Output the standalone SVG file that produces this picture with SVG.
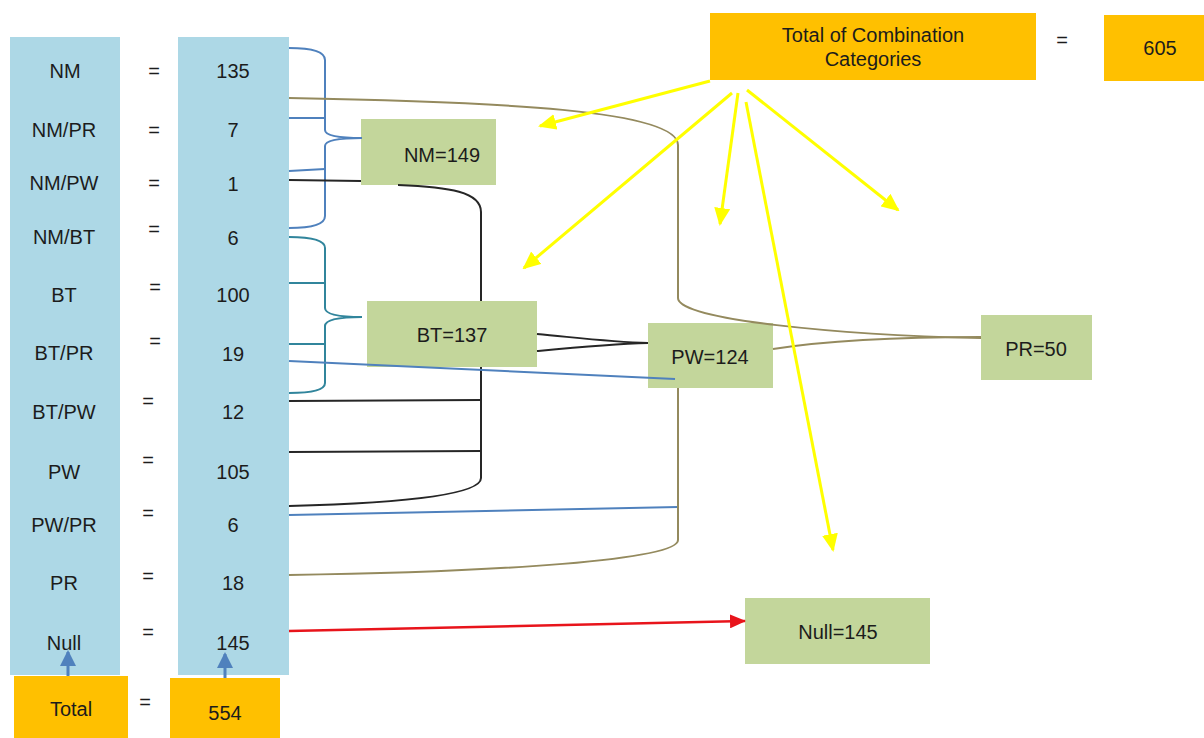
<svg xmlns="http://www.w3.org/2000/svg" width="1204" height="738" viewBox="0 0 1204 738">
  <style>
    .t { font-family: "Liberation Sans", Arial, sans-serif; font-size: 20px; fill: #1c1c1c; text-anchor: middle; }
    .col { fill: #add8e6; }
    .box { fill: #c3d69b; }
    .tot { fill: #ffc000; }
    .blk { fill: none; stroke: #262626; stroke-width: 2; }
    .olv { fill: none; stroke: #948a5e; stroke-width: 2; }
    .blu { fill: none; stroke: #4f81bd; stroke-width: 2; }
    .tea { fill: none; stroke: #31859c; stroke-width: 2; }
    .yel { fill: none; stroke: #ffff00; stroke-width: 3; marker-end: url(#ahY); }
    .red { fill: none; stroke: #e8141b; stroke-width: 2.5; marker-end: url(#ahR); }
    .up  { fill: none; stroke: #4f81bd; stroke-width: 3; marker-end: url(#ahB); }
  </style>
  <defs>
    <marker id="ahY" markerUnits="userSpaceOnUse" markerWidth="18" markerHeight="16" refX="16" refY="8" orient="auto">
      <path d="M0,0 L18,8 L0,16 z" fill="#ffff00"/>
    </marker>
    <marker id="ahR" markerUnits="userSpaceOnUse" markerWidth="16" markerHeight="14" refX="15" refY="7" orient="auto">
      <path d="M0,0 L16,7 L0,14 z" fill="#e8141b"/>
    </marker>
    <marker id="ahB" markerUnits="userSpaceOnUse" markerWidth="16" markerHeight="16" refX="14" refY="8" orient="auto">
      <path d="M0,0 L16,8 L0,16 z" fill="#4f81bd"/>
    </marker>
  </defs>

  <rect width="1204" height="738" fill="#ffffff"/>

  <!-- table columns -->
  <g id="columns">
    <rect class="col" x="10" y="37" width="110" height="638"/>
    <rect class="col" x="178" y="37" width="111" height="638"/>
  </g>

  <!-- table rows: category = count -->
  <g id="row-nm"><text class="t" x="65" y="78">NM</text><text class="t" x="154" y="78">=</text><text class="t" x="233" y="78">135</text></g>
  <g id="row-nm-pr"><text class="t" x="64" y="137">NM/PR</text><text class="t" x="154" y="137">=</text><text class="t" x="233" y="137">7</text></g>
  <g id="row-nm-pw"><text class="t" x="64" y="190">NM/PW</text><text class="t" x="154" y="190">=</text><text class="t" x="233" y="191">1</text></g>
  <g id="row-nm-bt"><text class="t" x="64" y="244">NM/BT</text><text class="t" x="154" y="236">=</text><text class="t" x="233" y="245">6</text></g>
  <g id="row-bt"><text class="t" x="64" y="302">BT</text><text class="t" x="155" y="294">=</text><text class="t" x="233" y="302">100</text></g>
  <g id="row-bt-pr"><text class="t" x="64" y="360">BT/PR</text><text class="t" x="155" y="348">=</text><text class="t" x="233" y="361">19</text></g>
  <g id="row-bt-pw"><text class="t" x="64" y="419">BT/PW</text><text class="t" x="148" y="408">=</text><text class="t" x="233" y="419">12</text></g>
  <g id="row-pw"><text class="t" x="64" y="479">PW</text><text class="t" x="148" y="467">=</text><text class="t" x="233" y="479">105</text></g>
  <g id="row-pw-pr"><text class="t" x="64" y="532">PW/PR</text><text class="t" x="148" y="520">=</text><text class="t" x="233" y="532">6</text></g>
  <g id="row-pr"><text class="t" x="64" y="590">PR</text><text class="t" x="148" y="583">=</text><text class="t" x="233" y="590">18</text></g>
  <g id="row-null"><text class="t" x="64" y="650">Null</text><text class="t" x="148" y="639">=</text><text class="t" x="233" y="650">145</text></g>

  <!-- totals -->
  <g id="total">
    <rect class="tot" x="14" y="676" width="114" height="62"/>
    <text class="t" x="71" y="716">Total</text>
    <text class="t" x="145" y="709">=</text>
  </g>
  <g id="total-value">
    <rect class="tot" x="170" y="678" width="110" height="60"/>
    <text class="t" x="225" y="720">554</text>
  </g>
  <g id="combination-total">
    <rect class="tot" x="710" y="13" width="326" height="67"/>
    <text class="t" x="873" y="42">Total of Combination</text>
    <text class="t" x="873" y="66">Categories</text>
    <text class="t" x="1062" y="47">=</text>
  </g>
  <g id="combination-value">
    <rect class="tot" x="1104" y="15" width="100" height="66"/>
    <text class="t" x="1160" y="55">605</text>
  </g>

  <!-- category totals -->
  <g id="nm-149"><rect class="box" x="361" y="119" width="135" height="66"/><text class="t" x="442" y="162">NM=149</text></g>
  <g id="bt-137"><rect class="box" x="367" y="301" width="170" height="66"/><text class="t" x="452" y="342">BT=137</text></g>
  <g id="pw-124"><rect class="box" x="648" y="323" width="125" height="65"/><text class="t" x="710" y="364">PW=124</text></g>
  <g id="pr-50"><rect class="box" x="981" y="315" width="111" height="65"/><text class="t" x="1036" y="356">PR=50</text></g>
  <g id="null-145"><rect class="box" x="745" y="598" width="185" height="66"/><text class="t" x="838" y="639">Null=145</text></g>

  <g id="connectors">
    <!-- NM brace -->
    <path class="blu" d="M289,48 Q325,48 325,60 L325,130 Q325,138 362,138 Q325,138 325,146 L325,216 Q325,228 289,228"/>
    <path class="blu" d="M289,118 L325,118 M289,171 L325,169"/>
    <!-- BT brace -->
    <path class="tea" d="M289,237 Q325,237 325,248 L325,308 Q325,317 362,317 Q325,317 325,326 L325,383 Q325,393 289,393"/>
    <path class="tea" d="M289,283 L325,283 M289,344 L325,344"/>

    <!-- PW links -->
    <path class="blk" d="M289,180 L361,181"/>
    <path class="blk" d="M398,185 C450,187 481,192 481,212 L481,301"/>
    <path class="blk" d="M481,367 L481,478 C481,495 400,503 289,506"/>
    <path class="blk" d="M289,401 L481,400 M289,452 L481,451"/>
    <path class="blk" d="M537,334 C580,338 612,342 648,343 M537,351 C580,347 612,344 648,343"/>
    <path class="blu" d="M289,361 L675,379"/>
    <path class="blu" d="M289,515 L678,507"/>

    <!-- PR links -->
    <path class="olv" d="M289,98 C500,102 678,110 678,145 L678,298 C678,320 840,335 981,338"/>
    <path class="olv" d="M773,349 C830,340 900,337 981,337"/>
    <path class="olv" d="M678,388 L678,540 C678,560 500,572 289,575"/>

    <!-- Null link -->
    <path class="red" d="M289,631 L745,621"/>

    <!-- totals -->
    <path class="up" d="M68,676 L68,652"/>
    <path class="up" d="M225,678 L225,654"/>

    <!-- combination categories -->
    <path class="yel" d="M710,81 L540,126"/>
    <path class="yel" d="M732,93 L524,268"/>
    <path class="yel" d="M738,93 L720,224"/>
    <path class="yel" d="M746,102 L833,550"/>
    <path class="yel" d="M747,90 L898,210"/>
  </g>
</svg>
